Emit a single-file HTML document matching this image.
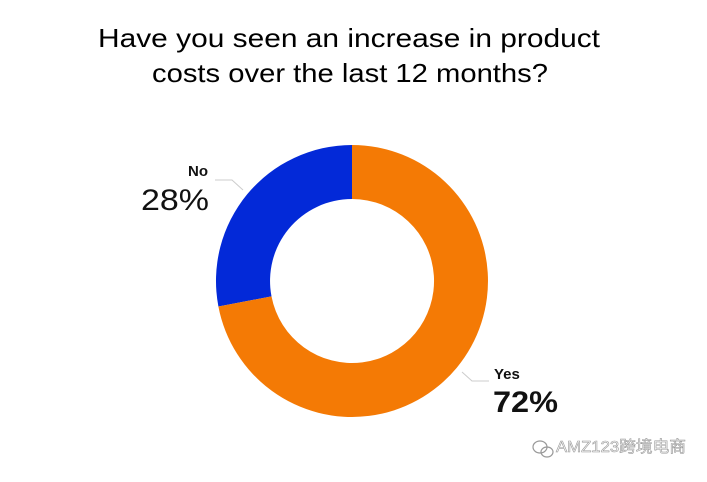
<!DOCTYPE html>
<html><head><meta charset="utf-8"><style>
body{margin:0;width:707px;height:477px;background:#fff;overflow:hidden;font-family:"Liberation Sans","Noto Sans CJK SC",sans-serif}
</style></head><body>
<svg width="707" height="477" xmlns="http://www.w3.org/2000/svg" font-family="Liberation Sans, Noto Sans CJK SC, sans-serif">
<text x="349" y="47" text-anchor="middle" font-size="26" font-weight="500" fill="#000" textLength="502" lengthAdjust="spacingAndGlyphs">Have you seen an increase in product</text>
<text x="350" y="82" text-anchor="middle" font-size="26" font-weight="500" fill="#000" textLength="396" lengthAdjust="spacingAndGlyphs">costs over the last 12 months?</text>
<path d="M352,145 A136,136 0 0 0 218.4,306.5 L271.5,296.4 A82,82 0 0 1 352,199 Z" fill="#0329d8"/>
<path d="M352,145 A136,136 0 1 1 218.4,306.5 L271.5,296.4 A82,82 0 1 0 352,199 Z" fill="#f47a05"/>
<polyline points="215,180 232,180 243,190" fill="none" stroke="#ccc" stroke-width="1"/>
<polyline points="462,372 472,381 489,381" fill="none" stroke="#ccc" stroke-width="1"/>
<text x="188" y="176" font-size="15" font-weight="bold" fill="#111">No</text>
<text x="141" y="210" font-size="30" fill="#111" textLength="68" lengthAdjust="spacingAndGlyphs">28%</text>
<text x="494" y="379" font-size="15" font-weight="bold" fill="#111">Yes</text>
<text x="493" y="412" font-size="30" font-weight="bold" fill="#111" textLength="65" lengthAdjust="spacingAndGlyphs">72%</text>
<g fill="none" stroke="#999" stroke-width="1.2">
<ellipse cx="540" cy="447" rx="7" ry="6"/>
<ellipse cx="547" cy="452" rx="6" ry="5"/>
</g>
<text x="556" y="452" font-size="16" fill="#fff" stroke="#999" stroke-width="0.6" textLength="130" lengthAdjust="spacingAndGlyphs">AMZ123跨境电商</text>
</svg>
</body></html>
